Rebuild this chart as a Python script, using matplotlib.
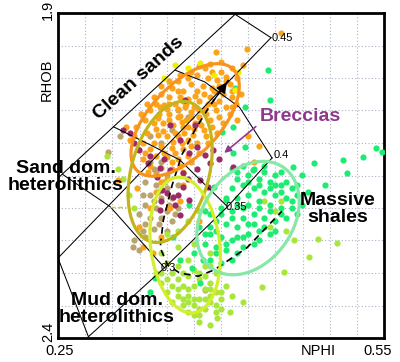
import numpy as np
import matplotlib
matplotlib.use("Agg")
import matplotlib.pyplot as plt
from matplotlib.patches import Ellipse

plt.rcParams['font.family'] = ['Liberation Sans', 'DejaVu Sans']

# ---------------- data (NPHI, RHOB) ----------------
orange_pts = [
    (0.385,1.985),(0.392,1.99),(0.40,1.99),(0.378,1.995),(0.37,2.00),(0.388,2.00),(0.396,2.003),(0.405,2.005),
    (0.36,2.005),(0.372,2.01),(0.383,2.012),(0.392,2.015),(0.40,2.018),(0.355,2.015),(0.365,2.02),(0.378,2.02),
    (0.41,2.02),(0.345,2.025),(0.352,2.03),(0.362,2.03),(0.37,2.032),(0.38,2.035),(0.39,2.03),(0.398,2.035),
    (0.34,2.04),(0.348,2.042),(0.358,2.04),(0.367,2.045),(0.375,2.045),(0.385,2.048),(0.395,2.05),(0.335,2.05),
    (0.343,2.055),(0.352,2.055),(0.362,2.058),(0.372,2.06),(0.38,2.06),(0.39,2.065),(0.33,2.065),(0.338,2.07),
    (0.347,2.07),(0.356,2.072),(0.365,2.075),(0.375,2.078),(0.384,2.08),(0.332,2.085),(0.342,2.088),(0.35,2.09),
    (0.36,2.09),(0.37,2.095),(0.378,2.1),(0.328,2.1),(0.338,2.1),(0.345,2.105),(0.355,2.108),(0.365,2.11),
    (0.33,2.115),(0.34,2.12),(0.35,2.122),(0.36,2.125),(0.37,2.12),(0.335,2.135),(0.345,2.138),(0.355,2.14),
    (0.365,2.145),(0.34,2.15),(0.35,2.155),(0.36,2.06),(0.368,2.065),(0.376,2.07),(0.352,2.065),(0.358,2.085),
    (0.366,2.085),(0.374,2.088),(0.386,2.055),(0.394,2.04),(0.402,2.025),(0.384,2.025),(0.376,2.028),(0.368,2.04),
    (0.36,2.048),(0.35,2.048),(0.342,2.062),(0.392,2.075),(0.398,2.06),(0.405,2.045),(0.41,2.03),
    (0.40,1.975),(0.41,1.985),(0.415,2.0),(0.408,2.01),(0.39,1.978),(0.38,1.982),(0.372,1.99),(0.362,1.995),
    (0.352,2.005),(0.345,2.012),(0.338,2.03),(0.332,2.04),(0.326,2.055),(0.322,2.075),(0.32,2.09),(0.324,2.11),
    (0.328,2.125),(0.333,2.145),(0.345,2.16),(0.355,2.13),(0.362,2.135),(0.372,2.13),(0.38,2.115),(0.388,2.1),
    (0.396,2.085),(0.402,2.07),(0.408,2.055),(0.414,2.04),(0.418,2.025),(0.364,2.1),(0.372,2.105),(0.358,2.115),
    (0.348,2.115),(0.386,2.09),(0.394,2.02),(0.388,2.04),(0.38,2.05),(0.372,2.052),(0.364,2.068),(0.356,2.098),
    (0.347,2.082),(0.34,2.078),(0.335,2.11),(0.37,2.075),(0.382,2.072),(0.398,2.012),(0.405,1.998),(0.36,2.02),
    (0.352,2.04),(0.344,2.045),
    (0.395,1.96),(0.42,1.98),(0.424,1.955),(0.455,1.93),(0.41,2.045),(0.415,2.065),(0.425,2.09),(0.435,2.105),
    (0.43,2.13),(0.365,2.165),(0.34,2.175),(0.323,2.17),(0.335,2.2),(0.353,2.2),(0.362,2.19),(0.38,2.22),
    (0.325,2.23),(0.328,2.26),(0.337,2.27),(0.313,2.075),(0.316,2.095),(0.305,2.157),(0.345,2.245),
]
tan_pts = [
    (0.335,2.13),(0.345,2.13),(0.34,2.145),(0.35,2.15),(0.33,2.16),(0.34,2.165),(0.35,2.17),(0.36,2.165),
    (0.335,2.18),(0.345,2.185),(0.355,2.185),(0.33,2.195),(0.34,2.2),(0.35,2.205),(0.36,2.2),(0.345,2.215),
    (0.355,2.22),(0.335,2.215),(0.325,2.21),(0.338,2.232),(0.35,2.235),(0.32,2.25),(0.325,2.265),(0.33,2.245),
    (0.36,2.05),(0.37,2.06),(0.355,2.08),(0.365,2.035),(0.38,2.07),(0.296,2.114),(0.307,2.09),(0.385,2.326),
    (0.345,2.1),(0.335,2.09),(0.319,2.26),
    (0.338,2.14),(0.348,2.16),(0.338,2.19),(0.358,2.21),(0.343,2.225),(0.33,2.225),(0.328,2.18),(0.352,2.195),
    (0.342,2.175),(0.328,2.235),
]
maroon_pts = [
    (0.310,2.080),(0.325,2.111),(0.333,2.131),(0.344,2.138),(0.362,2.095),(0.378,2.106),(0.385,2.118),
    (0.365,2.146),(0.381,2.157),(0.341,2.152),(0.353,2.141),(0.346,2.172),(0.356,2.183),(0.365,2.168),
    (0.371,2.115),(0.390,2.131),(0.411,2.137),(0.388,2.168),(0.316,2.085),(0.350,2.177),(0.358,2.195),
    (0.371,2.188),(0.393,2.111),(0.376,2.072),(0.353,2.072),(0.367,2.034),(0.344,2.203),(0.362,2.211),
    (0.335,2.12),(0.348,2.125),(0.37,2.155),(0.378,2.14),(0.398,2.125),(0.36,2.18),(0.345,2.19),(0.32,2.1),
]
green_pts = [
    (0.41,2.14),(0.42,2.135),(0.43,2.14),(0.44,2.145),(0.45,2.15),(0.46,2.16),(0.415,2.155),(0.425,2.15),
    (0.435,2.155),(0.445,2.16),(0.455,2.165),(0.465,2.17),(0.41,2.17),(0.42,2.165),(0.43,2.17),(0.44,2.175),
    (0.45,2.18),(0.46,2.185),(0.47,2.18),(0.405,2.185),(0.415,2.185),(0.425,2.18),(0.435,2.19),(0.445,2.195),
    (0.455,2.2),(0.465,2.2),(0.40,2.2),(0.41,2.205),(0.42,2.2),(0.43,2.21),(0.44,2.215),(0.45,2.22),
    (0.46,2.215),(0.395,2.22),(0.405,2.225),(0.415,2.23),(0.425,2.225),(0.435,2.235),(0.445,2.24),(0.39,2.24),
    (0.40,2.245),(0.41,2.25),(0.42,2.245),(0.43,2.255),(0.395,2.26),(0.405,2.265),(0.415,2.27),(0.39,2.28),
    (0.40,2.285),(0.385,2.205),(0.38,2.23),(0.385,2.255),(0.375,2.27),
    (0.415,2.145),(0.425,2.16),(0.435,2.165),(0.445,2.17),(0.455,2.175),(0.465,2.19),(0.475,2.195),(0.47,2.21),
    (0.455,2.21),(0.445,2.205),(0.435,2.2),(0.425,2.195),(0.415,2.195),(0.41,2.215),(0.42,2.215),(0.43,2.225),
    (0.44,2.23),(0.45,2.235),(0.425,2.24),(0.415,2.245),(0.435,2.25),(0.405,2.255),(0.42,2.26),(0.41,2.28),
    (0.395,2.27),(0.385,2.24),(0.395,2.235),(0.39,2.21),(0.40,2.21),(0.455,2.145),(0.44,2.135),(0.47,2.165),
    (0.48,2.175),(0.475,2.15),(0.45,2.165),
    (0.443,1.988),(0.445,2.034),(0.422,2.045),(0.413,2.015),(0.401,2.083),(0.411,2.075),(0.422,2.106),
    (0.411,2.115),(0.429,2.141),(0.466,2.137),(0.486,2.131),(0.512,2.126),(0.516,2.146),(0.531,2.121),
    (0.543,2.108),(0.548,2.114),(0.496,2.165),
    (0.394,2.168),(0.371,2.195),(0.405,2.188),(0.39,2.229),(0.356,2.245),(0.383,2.28),(0.362,2.28),
    (0.373,2.292),(0.381,2.315),(0.339,2.308),(0.335,2.329),
]
lime_pts = [
    (0.36,2.31),(0.37,2.305),(0.38,2.31),(0.39,2.315),(0.365,2.32),(0.375,2.32),(0.385,2.325),(0.395,2.33),
    (0.36,2.335),(0.37,2.335),(0.38,2.34),(0.39,2.345),(0.40,2.34),(0.365,2.35),(0.375,2.35),(0.385,2.355),
    (0.395,2.36),(0.38,2.365),(0.37,2.36),(0.355,2.345),(0.35,2.33),(0.345,2.315),(0.355,2.30),(0.35,2.285),
    (0.36,2.29),(0.37,2.28),(0.385,2.29),(0.395,2.30),(0.405,2.32),(0.41,2.335),(0.34,2.3),(0.345,2.27),
    (0.36,2.26),(0.375,2.255),(0.39,2.27),(0.38,2.375),(0.39,2.38),
    (0.365,2.30),(0.375,2.295),(0.385,2.305),(0.39,2.325),(0.40,2.33),(0.37,2.325),(0.36,2.325),(0.375,2.34),
    (0.385,2.34),(0.395,2.35),(0.38,2.355),(0.37,2.345),(0.39,2.335),(0.40,2.355),(0.375,2.365),(0.365,2.34),
    (0.355,2.32),(0.35,2.31),(0.345,2.30),(0.38,2.30),(0.39,2.29),
    (0.467,2.25),(0.489,2.248),(0.507,2.254),(0.481,2.275),(0.458,2.298),(0.438,2.322),(0.42,2.345),
    (0.408,2.36),(0.396,2.37),(0.295,2.12),(0.305,2.14),(0.31,2.155),(0.315,2.18),(0.32,2.2),
    (0.345,2.25),(0.35,2.24),(0.36,2.235),(0.37,2.22),(0.38,2.205),
    (0.44,2.19),(0.45,2.205),(0.46,2.235),(0.455,2.19),(0.445,2.23),
]
yellow_pts = [
    (0.370,1.985),(0.381,1.977),(0.394,1.995),(0.416,1.991),(0.348,2.0),(0.413,2.018),(0.358,1.98),
]

# overlay frame lines (NPHI, RHOB)
frame_lines = [
    [(0.25,2.154),(0.413,1.902)],
    [(0.413,1.902),(0.446,1.938)],
    [(0.446,1.938),(0.25,2.277)],
    [(0.254,2.148),(0.298,2.198),(0.348,2.292)],
    [(0.301,2.075),(0.335,2.103),(0.362,2.126),(0.406,2.198)],
    [(0.358,1.988),(0.385,2.006),(0.417,2.045),(0.447,2.123)],
    [(0.447,2.123),(0.406,2.198),(0.348,2.292),(0.278,2.398)],
    [(0.25,2.277),(0.278,2.398)],
]
porosity_labels = ["0.45", "0.4", "0.35", "0.3"]
porosity_pos = [(0.447,1.938),(0.448,2.118),(0.404,2.198),(0.344,2.292)]

dashed_curve = [(0.407,2.003),(0.39,2.042),(0.376,2.08),(0.364,2.118),(0.355,2.165),(0.347,2.218),
                (0.344,2.261),(0.351,2.288),(0.362,2.300),(0.379,2.305),(0.394,2.295),(0.424,2.261),
                (0.456,2.205)]

# ---------------- figure ----------------
W, H = 400, 362
fig = plt.figure(figsize=(W/100, H/100), dpi=100)
ax = fig.add_axes([58/W, 1-338/H, 326/W, 325/H])
ax.set_xlim(0.25, 0.55)
ax.set_ylim(2.4, 1.9)
ax.set_xticks(np.arange(0.25, 0.5501, 0.025))
ax.set_yticks(np.arange(1.9, 2.4001, 0.05))
ax.tick_params(length=0, labelbottom=False, labelleft=False)
ax.grid(True, linestyle=(0, (1, 2)), color='#a8b2c4', linewidth=0.8)
ax.set_axisbelow(True)
for s in ax.spines.values():
    s.set_linewidth(2.0)

def sc(pts, color):
    a = np.array(pts)
    ax.scatter(a[:, 0], a[:, 1], s=20, color=color, linewidths=0, zorder=3)

sc(tan_pts, '#b9a46e')
sc(lime_pts, '#a9e63a')
sc(green_pts, '#1cec72')
sc(orange_pts, '#fba41a')
sc(maroon_pts, '#9c2a66')
sc(yellow_pts, '#eef000')

for ln in frame_lines:
    a = np.array(ln)
    ax.plot(a[:, 0], a[:, 1], color='black', lw=0.75, zorder=4)
a = np.array(dashed_curve)
ax.plot(a[:, 0], a[:, 1], color='black', lw=1.2, ls=(0, (4, 3)), zorder=4)
ax.annotate('', xy=dashed_curve[0], xytext=dashed_curve[1],
            arrowprops=dict(arrowstyle='-|>', color='black', lw=1.0, mutation_scale=16), zorder=6)
ax.plot([0.298, 0.313], [2.198, 2.198], color='#d8d000', lw=1.0, ls='--', zorder=4)

for lab, (x, y) in zip(porosity_labels, porosity_pos):
    ax.text(x, y, lab, fontsize=8, ha='left', va='center', zorder=7)

# ellipses in axes fraction
ell = [((0.39, 0.671), 0.429, 0.215, 47, '#f7931e'),
       ((0.344, 0.511), 0.445, 0.239, 75, '#c4b41c'),
       ((0.39, 0.286), 0.42, 0.212, 97, '#d4ef2a'),
       ((0.583, 0.369), 0.38, 0.276, 55, '#86e8a6')]
for c, w, h, ang, col in ell:
    ax.add_patch(Ellipse(c, w, h, angle=ang, transform=ax.transAxes, fill=False,
                         edgecolor=col, lw=2.3, zorder=5))

# Breccias arrow
ax.annotate('', xy=(0.401, 2.118), xytext=(0.434, 2.072),
            arrowprops=dict(arrowstyle='-|>', color='#8e3a8c', lw=1.2, mutation_scale=10), zorder=7)

def ft(px, py, s, **kw):
    fig.text(px/W, 1-py/H, s, **kw)

bold = dict(fontsize=14, fontweight='bold', ha='center', va='center', linespacing=1.05, zorder=10)
ft(139, 78, 'Clean sands', rotation=42, **bold)
ft(66, 177, 'Sand dom.\nheterolithics', **bold)
ft(338, 209, 'Massive\nshales', **bold)
ft(117, 309, 'Mud dom.\nheterolithics', **bold)
ft(300, 116, 'Breccias', fontsize=14, fontweight='bold', color='#8e3a8c', ha='center', va='center')

reg = dict(fontsize=10.5, ha='center', va='center')
ft(47, 80, 'RHOB', rotation=90, **reg)
ft(48, 10, '1.9', rotation=90, **reg)
ft(48, 332, '2.4', rotation=90, **reg)
ft(60, 351, '0.25', **reg)
ft(318, 351, 'NPHI', **reg)
ft(378, 351, '0.55', **reg)

fig.savefig('out.png', dpi=100)
